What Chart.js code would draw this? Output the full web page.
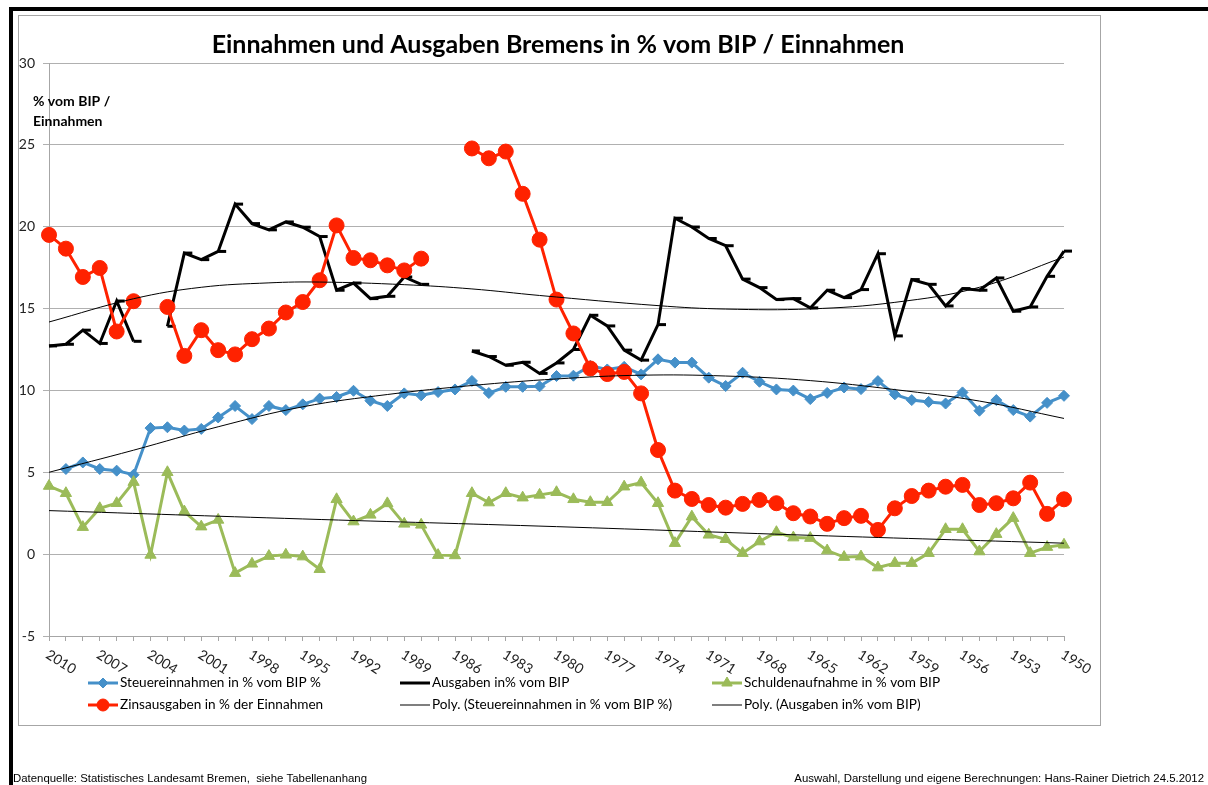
<!DOCTYPE html>
<html>
<head>
<meta charset="utf-8">
<script src="https://cdn.jsdelivr.net/npm/chart.js@4.4.1/dist/chart.umd.min.js"></script>
<style>
  html, body { margin: 0; padding: 0; background: #fff; }
  #wrap { width: 1208px; height: 785px; position: relative; }
</style>
</head>
<body>
<div id="wrap"><canvas id="chart" width="1208" height="785"></canvas></div>
<script>
// years, newest first (as in the original sheet)
const years = [];
for (let y = 2010; y >= 1950; y--) years.push(String(y));
const yTicks = [-5, 0, 5, 10, 15, 20, 25, 30];

const steuer = [null, 5.2, 5.6, 5.2, 5.1, 4.85, 7.7, 7.75, 7.55, 7.65,
  8.35, 9.05, 8.25, 9.05, 8.8, 9.15, 9.5, 9.6, 9.98, 9.37,
  9.05, 9.82, 9.7, 9.9, 10.06, 10.58, 9.84, 10.22, 10.22, 10.25,
  10.88, 10.9, 11.5, 11.28, 11.44, 10.98, 11.9, 11.7, 11.7, 10.78,
  10.27, 11.08, 10.53, 10.06, 9.99, 9.47, 9.85, 10.18, 10.08, 10.57,
  9.76, 9.41, 9.3, 9.2, 9.88, 8.76, 9.41, 8.8, 8.4, 9.24, 9.67];

const ausgaben = [12.72, 12.82, 13.68, 12.87, 15.46, 13.0, null, 13.92, 18.39, 17.99,
  18.49, 21.38, 20.19, 19.81, 20.29, 19.97, 19.4, 16.12, 16.56, 15.61,
  15.75, 16.93, 16.48, null, null, 12.41, 12.07, 11.54, 11.72, 11.04,
  11.68, 12.5, 14.59, 13.94, 12.46, 11.85, 14.02, 20.52, 19.98, 19.28,
  18.84, 16.8, 16.28, 15.55, 15.61, 15.04, 16.12, 15.67, 16.16, 18.35,
  13.33, 16.77, 16.48, 15.16, 16.22, 16.12, 16.87, 14.84, 15.1, 16.97, 18.51];

const schulden = [4.16, 3.72, 1.65, 2.8, 3.11, 4.4, -0.05, 5.0, 2.6, 1.68,
  2.09, -1.16, -0.59, -0.12, -0.04, -0.15, -0.92, 3.35, 1.99, 2.4,
  3.1, 1.85, 1.79, -0.06, -0.08, 3.72, 3.15, 3.72, 3.45, 3.62,
  3.78, 3.35, 3.17, 3.17, 4.12, 4.37, 3.11, 0.67, 2.29, 1.18,
  0.91, 0.06, 0.77, 1.34, 1.01, 0.98, 0.22, -0.18, -0.15, -0.82,
  -0.55, -0.55, 0.06, 1.52, 1.52, 0.16, 1.22, 2.2, 0.06, 0.43, 0.57];

const zins = [19.5, 18.66, 16.93, 17.48, 13.6, 15.45, null, 15.1, 12.11, 13.68,
  12.46, 12.2, 13.13, 13.78, 14.76, 15.4, 16.73, 20.08, 18.09, 17.95,
  17.64, 17.33, 18.05, null, null, 24.78, 24.18, 24.59, 22.01, 19.21,
  15.55, 13.48, 11.34, 11.0, 11.13, 9.82, 6.36, 3.88, 3.37, 3.0,
  2.84, 3.07, 3.31, 3.11, 2.5, 2.3, 1.85, 2.2, 2.34, 1.48,
  2.8, 3.55, 3.88, 4.12, 4.23, 3.0, 3.11, 3.41, 4.37, 2.46, 3.35];

// trend lines (at a few years)
const steuerTrendYears = ["2010", "2005", "2000", "1995", "1990", "1985", "1980", "1975", "1970", "1965", "1960", "1955", "1950"];
const steuerTrend = [5.0, 6.35, 7.78, 9.0, 9.75, 10.3, 10.7, 10.93, 10.88, 10.6, 10.05, 9.35, 8.29];
const ausgabenTrendYears = ["2010", "2005", "2001", "1997", "1994", "1989", "1985", "1981", "1974", "1970", "1965", "1960", "1955", "1950"];
const ausgabenTrend = [14.18, 15.6, 16.3, 16.57, 16.62, 16.46, 16.2, 15.8, 15.18, 14.97, 14.98, 15.38, 16.3, 18.15];
const schuldenTrendYears = ["2010", "1995", "1980", "1965", "1950"];
const schuldenTrend = [2.66, 2.15, 1.68, 1.15, 0.67];

const BLUE = "#4590c9";
const RED = "#ff2200";
const GREEN = "#9bbb59";
const FONT = "Lato, 'Open Sans', sans-serif";

function pts(xs, ys) {
  return xs.map((x, i) => ({ x: x, y: ys[i] }));
}

const legendItems = [
  { text: "Steuereinnahmen in % vom BIP %", color: BLUE, width: 3, point: "rectRot", r: 5 },
  { text: "Ausgaben in% vom BIP", color: "#000", width: 3, point: null },
  { text: "Schuldenaufnahme in % vom BIP", color: GREEN, width: 3, point: "triangle", r: 6 },
  { text: "Zinsausgaben in % der Einnahmen", color: RED, width: 3, point: "circle", r: 6 },
  { text: "Poly. (Steuereinnahmen in % vom BIP %)", color: "#555", width: 1.5, point: null },
  { text: "Poly. (Ausgaben in% vom BIP)", color: "#555", width: 1.5, point: null },
];

const decor = {
  id: "decor",
  beforeDraw(chart) {
    const ctx = chart.ctx;
    ctx.save();
    ctx.fillStyle = "#fff";
    ctx.fillRect(0, 0, chart.width, chart.height);
    // frame of the chart object
    ctx.strokeStyle = "#a6a6a6";
    ctx.lineWidth = 1;
    ctx.strokeRect(18.5, 15.5, 1082, 710);
    // thick page border
    ctx.fillStyle = "#000";
    ctx.fillRect(9, 7, 1199, 4);
    ctx.fillRect(9, 7, 4, 778);
    ctx.restore();
  },
  afterDraw(chart) {
    const ctx = chart.ctx;
    const xs = chart.scales.x;
    ctx.save();
    // title
    ctx.fillStyle = "#000";
    ctx.font = "bold 25px " + FONT;
    ctx.textAlign = "center";
    ctx.textBaseline = "middle";
    ctx.fillText("Einnahmen und Ausgaben Bremens in % vom BIP / Einnahmen", 558, 45);
    // y axis title
    ctx.font = "bold 14px " + FONT;
    ctx.textAlign = "left";
    ctx.fillText("% vom BIP /", 33, 101);
    ctx.fillText("Einnahmen", 33, 121);
    // x labels, slanted down to the right
    ctx.font = "14px " + FONT;
    ctx.fillStyle = "#222";
    ctx.textAlign = "center";
    for (let i = 0; i < years.length; i += 3) {
      const px = xs.getPixelForValue(i);
      ctx.save();
      ctx.translate(px + 12, 662);
      ctx.rotate(Math.PI * 32 / 180);
      ctx.fillText(years[i], 0, 0);
      ctx.restore();
    }
    // legend, three columns
    const cols = [88, 400, 712];
    const rows = [683, 705];
    ctx.font = "13.6px " + FONT;
    ctx.textAlign = "left";
    ctx.fillStyle = "#000";
    legendItems.forEach((it, k) => {
      const x0 = cols[k % 3];
      const y0 = rows[Math.floor(k / 3)];
      ctx.strokeStyle = it.color;
      ctx.lineWidth = it.width;
      ctx.beginPath();
      ctx.moveTo(x0, y0);
      ctx.lineTo(x0 + 30, y0);
      ctx.stroke();
      if (it.point) {
        ctx.fillStyle = it.color;
        ctx.lineWidth = 1;
        Chart.helpers.drawPoint(ctx, { pointStyle: it.point, radius: it.r, rotation: 0, borderWidth: 1 }, x0 + 15, y0);
      }
      ctx.fillStyle = "#000";
      ctx.fillText(it.text, x0 + 32, y0);
    });
    // footer
    ctx.font = "11.4px 'Liberation Sans', Arial, sans-serif";
    ctx.textBaseline = "alphabetic";
    ctx.fillText("Datenquelle: Statistisches Landesamt Bremen,  siehe Tabellenanhang", 13, 782);
    ctx.textAlign = "right";
    ctx.fillText("Auswahl, Darstellung und eigene Berechnungen: Hans-Rainer Dietrich 24.5.2012", 1204, 782);
    ctx.restore();
  },
};

new Chart(document.getElementById("chart"), {
  type: "line",
  data: {
    labels: years,
    datasets: [
      { label: "Poly. (Steuereinnahmen in % vom BIP %)", data: pts(steuerTrendYears, steuerTrend),
        borderColor: "#000", borderWidth: 1, pointRadius: 0, tension: 0.4, order: 0 },
      { label: "Poly. (Ausgaben in% vom BIP)", data: pts(ausgabenTrendYears, ausgabenTrend),
        borderColor: "#000", borderWidth: 1, pointRadius: 0, tension: 0.4, order: 0 },
      { label: "Schulden trend", data: pts(schuldenTrendYears, schuldenTrend),
        borderColor: "#000", borderWidth: 1, pointRadius: 0, tension: 0.4, order: 0 },
      { label: "Zinsausgaben in % der Einnahmen", data: zins, borderColor: RED, borderWidth: 3,
        pointStyle: "circle", pointRadius: 7.5, pointBackgroundColor: RED, pointBorderColor: RED,
        pointBorderWidth: 1, order: 1 },
      { label: "Schuldenaufnahme in % vom BIP", data: schulden, borderColor: GREEN, borderWidth: 3,
        pointStyle: "triangle", pointRadius: 6.5, pointBackgroundColor: GREEN, pointBorderColor: GREEN,
        pointBorderWidth: 1, order: 2 },
      { label: "Ausgaben in% vom BIP", data: ausgaben, borderColor: "#000", borderWidth: 3,
        pointStyle: "dash", pointRadius: 8, pointBorderColor: "#000", pointBorderWidth: 3, order: 3 },
      { label: "Steuereinnahmen in % vom BIP %", data: steuer, borderColor: BLUE, borderWidth: 3,
        pointStyle: "rectRot", pointRadius: 5.5, pointBackgroundColor: BLUE, pointBorderColor: BLUE,
        pointBorderWidth: 1, order: 4 },
    ],
  },
  options: {
    responsive: false,
    animation: false,
    spanGaps: false,
    layout: { padding: { top: 63, right: 144, bottom: 0, left: 0 } },
    plugins: { legend: { display: false }, title: { display: false }, tooltip: { enabled: false } },
    scales: {
      x: {
        offset: false,
        grid: { display: true, drawOnChartArea: false, drawTicks: true, tickLength: 5, color: "#a6a6a6" },
        border: { display: true, color: "#a6a6a6" },
        ticks: { display: false, autoSkip: false },
        afterFit(s) { s.height = 149; },
      },
      y: {
        min: -5, max: 30,
        afterBuildTicks(s) { s.ticks = yTicks.map((v) => ({ value: v })); },
        grid: { color: "#b0b0b0", tickLength: 6 },
        border: { display: true, color: "#a6a6a6" },
        ticks: { font: { family: FONT, size: 14 }, color: "#222", padding: 8 },
        afterFit(s) { s.width = 49; },
      },
    },
  },
  plugins: [decor],
});
</script>
</body>
</html>
